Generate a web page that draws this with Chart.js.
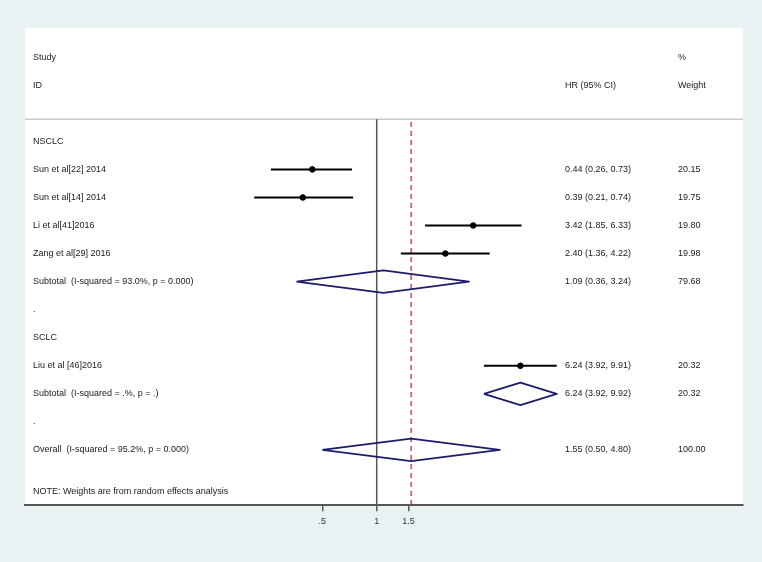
<!DOCTYPE html>
<html>
<head>
<meta charset="utf-8">
<script src="https://cdn.jsdelivr.net/npm/chart.js@4.4.1/dist/chart.umd.min.js"></script>
<style>
  html, body { margin: 0; padding: 0; background: #e9f1f3; }
  #wrap { width: 762px; height: 562px; }
</style>
</head>
<body>
<div id="wrap"><canvas id="forest" width="762" height="562"></canvas></div>
<script>
// Études individuelles
const studies = ['Sun et al[22] 2014', 'Sun et al[14] 2014', 'Li et al[41]2016', 'Zang et al[29] 2016', 'Liu et al [46]2016'];
const studyRows = [1, 2, 3, 4, 8];
const studyHR = [0.44, 0.39, 3.42, 2.40, 6.24];
const studyLo = [0.26, 0.21, 1.85, 1.36, 3.92];
const studyHi = [0.73, 0.74, 6.33, 4.22, 9.91];
const studyWeight = [20.15, 19.75, 19.80, 19.98, 20.32];

// Estimations poolées (losanges)
const pooled = ['Subtotal  (I-squared = 93.0%, p = 0.000)', 'Subtotal  (I-squared = .%, p = .)', 'Overall  (I-squared = 95.2%, p = 0.000)'];
const pooledRows = [5, 9, 11];
const pooledHR = [1.09, 6.24, 1.55];
const pooledLo = [0.36, 3.92, 0.50];
const pooledHi = [3.24, 9.92, 4.80];
const pooledWeight = [79.68, 20.32, 100.00];

// Lignes de texte seules
const extraLabels = ['NSCLC', '.', 'SCLC', '.', 'NOTE: Weights are from random effects analysis'];
const extraRows = [0, 6, 7, 10, 12.5];

const tickValues = [0.5, 1, 1.5];
const tickLabels = ['.5', '1', '1.5'];

const overallHR = pooledHR[2];
const headerRow = -0.79;
const axisRow = 12.97;

const datasets = [];

// intervalles de confiance
studies.forEach((s, i) => {
    datasets.push({
        type: 'line',
        data: [{x: studyLo[i], y: studyRows[i]}, {x: studyHi[i], y: studyRows[i]}],
        borderColor: '#000',
        borderWidth: 2,
        pointRadius: 0
    });
});

// points estimés
datasets.push({
    type: 'scatter',
    data: studyHR.map((v, i) => ({x: v, y: studyRows[i]})),
    backgroundColor: '#000',
    borderColor: '#000',
    pointRadius: 2.8,
    pointStyle: 'circle'
});

// losanges
pooled.forEach((s, i) => {
    const r = pooledRows[i];
    datasets.push({
        type: 'line',
        data: [
            {x: pooledLo[i], y: r},
            {x: pooledHR[i], y: r - 0.4},
            {x: pooledHi[i], y: r},
            {x: pooledHR[i], y: r + 0.4},
            {x: pooledLo[i], y: r}
        ],
        borderColor: '#1c1c6c',
        borderWidth: 1.8,
        borderJoinStyle: 'round',
        pointRadius: 0,
        fill: false,
        tension: 0
    });
});

// ligne de nullité
datasets.push({
    type: 'line',
    data: [{x: 1, y: headerRow}, {x: 1, y: axisRow}],
    borderColor: '#555',
    borderWidth: 1.5,
    pointRadius: 0
});

// ligne de l'effet global
datasets.push({
    type: 'line',
    data: [{x: overallHR, y: headerRow + 0.1}, {x: overallHR, y: axisRow}],
    borderColor: '#a0283c',
    borderWidth: 1.2,
    borderDash: [5, 4],
    pointRadius: 0
});

// ligne sous l'en-tête
datasets.push({
    type: 'line',
    data: [{x: 0.01132, y: headerRow}, {x: 106.4, y: headerRow}],
    borderColor: '#c8c8c8',
    borderWidth: 1.5,
    pointRadius: 0
});

const panelPlugin = {
    id: 'panel',
    beforeDraw(chart) {
        const {ctx, chartArea} = chart;
        ctx.save();
        ctx.fillStyle = '#ffffff';
        ctx.fillRect(chartArea.left, chartArea.top, chartArea.right - chartArea.left, chartArea.bottom - chartArea.top);
        ctx.restore();
    }
};

const textPlugin = {
    id: 'forestText',
    afterDatasetsDraw(chart) {
        const {ctx, chartArea} = chart;
        const y = chart.scales.y;
        const xLabel = chartArea.left + 8;
        const xHR = 565;
        const xW = 678;
        ctx.save();
        ctx.font = '9px "Liberation Sans", Arial, sans-serif';
        ctx.fillStyle = '#1a1a1a';
        ctx.textBaseline = 'middle';
        ctx.textAlign = 'left';
        const put = (txt, x, row) => ctx.fillText(txt, x, y.getPixelForValue(row));

        put('Study', xLabel, -3);
        put('ID', xLabel, -2);
        put('HR (95% CI)', xHR, -2);
        put('%', xW, -3);
        put('Weight', xW, -2);

        studies.forEach((s, i) => {
            put(s, xLabel, studyRows[i]);
            put(studyHR[i].toFixed(2) + ' (' + studyLo[i].toFixed(2) + ', ' + studyHi[i].toFixed(2) + ')', xHR, studyRows[i]);
            put(studyWeight[i].toFixed(2), xW, studyRows[i]);
        });
        pooled.forEach((s, i) => {
            put(s, xLabel, pooledRows[i]);
            put(pooledHR[i].toFixed(2) + ' (' + pooledLo[i].toFixed(2) + ', ' + pooledHi[i].toFixed(2) + ')', xHR, pooledRows[i]);
            put(pooledWeight[i].toFixed(2), xW, pooledRows[i]);
        });
        extraLabels.forEach((s, i) => put(s, xLabel, extraRows[i]));
        ctx.restore();
    }
};

new Chart(document.getElementById('forest').getContext('2d'), {
    type: 'line',
    data: { datasets: datasets },
    options: {
        responsive: false,
        animation: false,
        layout: { padding: { left: 25, right: 19, top: 28, bottom: 30 } },
        scales: {
            x: {
                type: 'logarithmic',
                min: 0.01132,
                max: 106.4,
                afterBuildTicks: (scale) => { scale.ticks = tickValues.map(v => ({value: v})); },
                ticks: {
                    autoSkip: false,
                    maxRotation: 0,
                    color: '#333',
                    font: { family: '"Liberation Sans", Arial, sans-serif', size: 9 },
                    padding: 5,
                    callback: (v) => tickLabels[tickValues.indexOf(v)] ?? ''
                },
                grid: { drawOnChartArea: false, drawTicks: true, tickLength: 6, color: '#555', lineWidth: 1.5 },
                border: { display: true, color: '#555', width: 2 }
            },
            y: {
                type: 'linear',
                reverse: true,
                min: -4.04,
                max: 12.97,
                display: false
            }
        },
        plugins: {
            legend: { display: false },
            tooltip: { enabled: false }
        }
    },
    plugins: [panelPlugin, textPlugin]
});
</script>
</body>
</html>
